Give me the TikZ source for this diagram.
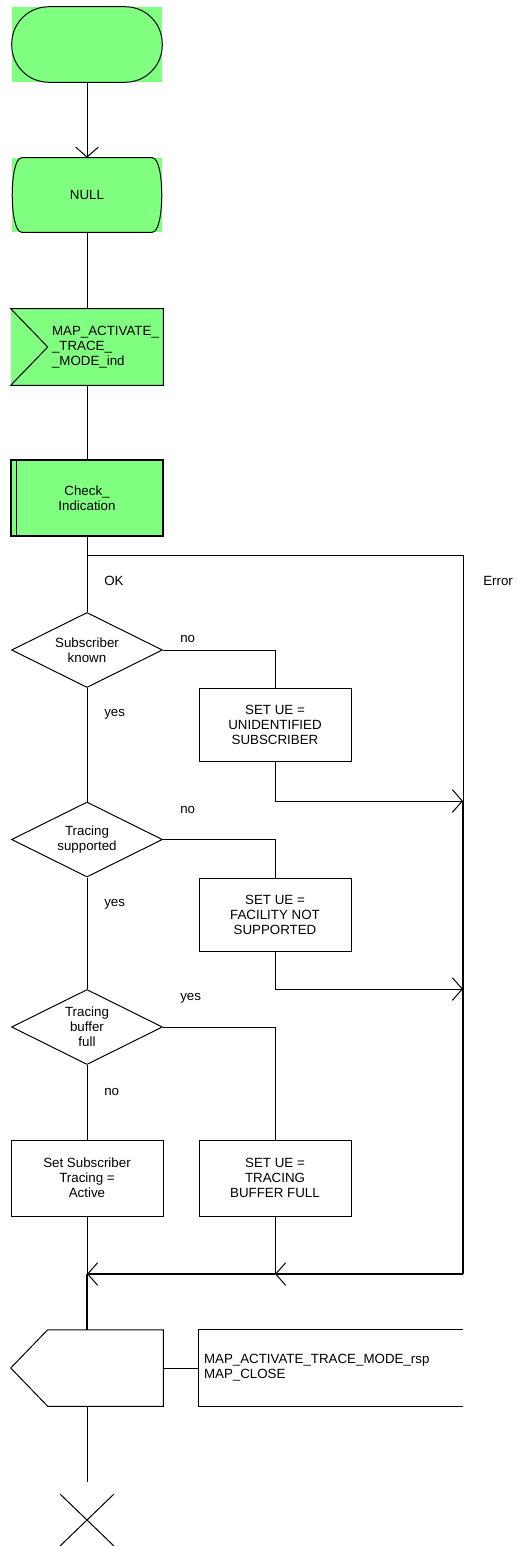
\documentclass[tikz,border=0pt]{standalone}
\usepackage{fontspec}
\setmainfont{Liberation Sans}
\usetikzlibrary{shapes.geometric, arrows.meta}
\definecolor{sdlgreen}{RGB}{128,255,128}
\tikzstyle{startstop} = [
    rectangle,
    fill=sdlgreen,
    minimum width=112.5pt,
    minimum height=56.25pt,
    inner sep=0pt
]
\tikzstyle{statebox} = [
    rectangle,
    fill=sdlgreen,
    minimum width=112.5pt,
    minimum height=55.5pt,
    inner sep=0pt
]
\tikzstyle{inputsig} = [
    rectangle,
    fill=sdlgreen,
    minimum width=114pt,
    minimum height=57pt,
    inner xsep=30.75pt,
    text width=52.5pt,
    align=left
]
\tikzstyle{procedure} = [
    rectangle,
    fill=sdlgreen,
    draw=black,
    line width=1.2pt,
    minimum width=114pt,
    minimum height=57pt,
    align=center
]
\tikzstyle{decision} = [
    diamond,
    aspect=2,
    draw=black,
    line width=0.75pt,
    minimum width=113.25pt,
    minimum height=56.25pt,
    inner sep=0pt,
    align=center
]
\tikzstyle{task} = [
    rectangle,
    draw=black,
    line width=0.75pt,
    minimum width=114pt,
    minimum height=54.75pt,
    align=center
]
\tikzstyle{outputsig} = [
    rectangle,
    minimum width=114pt,
    minimum height=57pt
]
\tikzstyle{commentbox} = [
    rectangle,
    minimum width=198pt,
    minimum height=57pt,
    inner xsep=3.75pt,
    text width=190.5pt,
    align=left
]
\tikzstyle{flowlabel} = [anchor=west, inner sep=0pt]
\tikzstyle{conn} = [line width=0.75pt]
\tikzstyle{errline} = [line width=1.5pt]
\tikzstyle{arrow} = [line width=0.75pt, ->,
    >={Straight Barb[length=7.5pt, width=17pt, line width=0.75pt]}]

\begin{document}
\begin{tikzpicture}[x=0.75pt, y=-0.75pt, font=\fontsize{10}{11.25}\selectfont]
\useasboundingbox (0,0) rectangle (517,1546);

\node (start) [startstop] at (87,44.5) {};

\node (null) [statebox] at (87,195) {NULL};

\node (in) [inputsig] at (87,347)
{MAP\_ACTIVATE\_\\\_TRACE\_\\\_MODE\_ind};

\node (check) [procedure] at (87,498) {Check\_\\Indication};

\node (subknown) [decision] at (87,650) {Subscriber\\known};

\node (ue1) [task] at (275,724.5)
{SET UE =\\UNIDENTIFIED\\SUBSCRIBER};

\node (tracesup) [decision] at (87,839.5) {Tracing\\supported};

\node (ue2) [task] at (275,914.5)
{SET UE =\\FACILITY NOT\\SUPPORTED};

\node (bufull) [decision] at (87,1027) {Tracing\\buffer\\full};

\node (active) [task, minimum height=57pt] at (87,1178)
{Set Subscriber\\Tracing =\\Active};

\node (ue3) [task, minimum height=57pt] at (275,1178)
{SET UE =\\TRACING\\BUFFER FULL};

\node (out) [outputsig] at (87,1368) {};

\node (comment) [commentbox] at (331,1368)
{MAP\_ACTIVATE\_TRACE\_MODE\_rsp\\MAP\_CLOSE};

\coordinate (branch) at (87,555);
\coordinate (errtop) at (463,555);
\coordinate (join1) at (463,801);
\coordinate (join2) at (463,989);
\coordinate (errbot) at (463,1274);
\coordinate (mergeue) at (275,1274);
\coordinate (merge) at (87,1274);
\coordinate (stopend) at (87,1482);
\coordinate (stop) at (87,1520);

\node (ok) [flowlabel] at (104,581) {OK};
\node (error) [flowlabel] at (483,581) {Error};
\node (no1) [flowlabel] at (180,639) {no};
\node (yes1) [flowlabel] at (104,714) {yes};
\node (no2) [flowlabel] at (180,810) {no};
\node (yes2) [flowlabel] at (104,904) {yes};
\node (yes3) [flowlabel] at (180,998) {yes};
\node (no3) [flowlabel] at (104,1092) {no};

% symbol outlines
\draw [conn, rounded corners=27.75pt] (start.north west) rectangle (start.south east);
\draw [conn] ([xshift=7.5pt]null.north west) -- ([xshift=-7.5pt]null.north east)
    .. controls ([xshift=2pt]null.north east) and ([xshift=2pt]null.south east) .. ([xshift=-7.5pt]null.south east)
    -- ([xshift=7.5pt]null.south west)
    .. controls ([xshift=-2pt]null.south west) and ([xshift=-2pt]null.north west) .. cycle;
\draw [conn] (in.north west) -- (in.north east) -- (in.south east) -- (in.south west)
    -- ([xshift=27.75pt]in.west) -- cycle;
\draw [conn] ([xshift=4.5pt]check.north west) -- ([xshift=4.5pt]check.south west);
\draw [conn] ([xshift=27.75pt]out.north west) -- (out.north east) -- (out.south east)
    -- ([xshift=27.75pt]out.south west) -- (out.west) -- cycle;
\draw [conn] (comment.north east) -- (comment.north west) -- (comment.south west) -- (comment.south east);
\draw [conn] ([shift={(-27,-26)}]stop) -- ([shift={(27,26)}]stop);
\draw [conn] ([shift={(-27,26)}]stop) -- ([shift={(27,-26)}]stop);

% flow
\draw [arrow] (start) -- (null);
\draw [conn] (null) -- (in);
\draw [conn] (in) -- (check);
\draw [conn] (check) -- (subknown);
\draw [conn] (branch) -- (errtop) -- (join1);

\draw [conn] (subknown) -| (ue1);
\draw [arrow] (ue1) |- (join1);
\draw [conn] (subknown) -- (tracesup);

\draw [conn] (tracesup) -| (ue2);
\draw [arrow] (ue2) |- (join2);
\draw [conn] (tracesup) -- (bufull);

\draw [conn] (bufull) -| (ue3);
\draw [conn] (bufull) -- (active);
\draw [conn] (active) -- (merge);
\draw [conn] (ue3) -- (mergeue);

\draw [errline] (join1) -- (errbot);
\draw [arrow, errline] (errbot) -- (mergeue);
\draw [arrow, errline] (mergeue) -- (merge);
\draw [errline] (merge) -- (out);

\draw [conn] (out) -- (comment);
\draw [conn] (out) -- (stopend);

\end{tikzpicture}
\end{document}
